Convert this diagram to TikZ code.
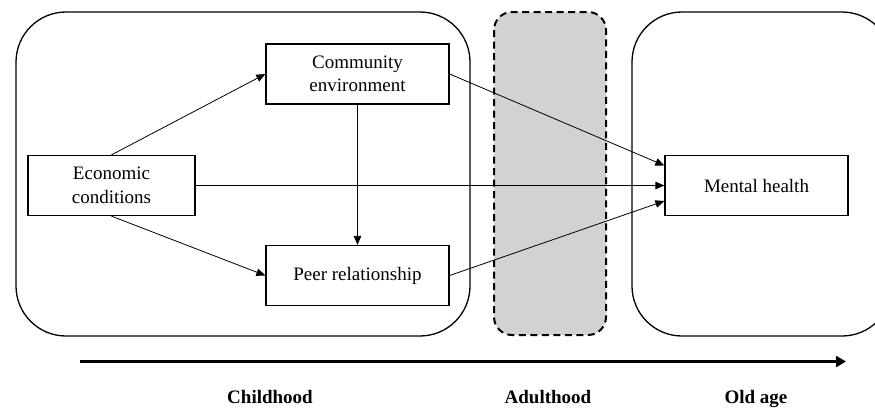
\documentclass[tikz,border=0pt]{standalone}
\usepackage{fontspec}
\setmainfont{Liberation Serif}
\usetikzlibrary{arrows.meta}
\begin{document}
\begin{tikzpicture}[x=1pt,y=-1pt,
  txt/.style={font=\fontsize{19}{23.5}\selectfont, align=center},
  box/.style={txt, draw, line width=1.3pt, minimum width=183pt, minimum height=60pt, inner sep=2pt},
  region/.style={draw, line width=1.3pt, rounded corners=50pt},
  conn/.style={line width=0.8pt, -{Triangle[length=9pt,width=7.5pt]}},
  period/.style={font=\fontsize{19}{23}\selectfont\bfseries, anchor=base, inner sep=0pt}
]
\useasboundingbox (0,0) rectangle (875,410);
\clip (0,0) rectangle (875,410);
% regions
\draw[region] (16,12) rectangle (470,336);
\draw[line width=2pt, dash pattern=on 7pt off 4.5pt, fill=gray!35, rounded corners=18pt] (494,12) rectangle (606,335);
\draw[region] (632,12) rectangle (892,336);
% nodes
\node[box] (com) at (357.5,74) {Community\\environment};
\node[box, minimum width=167pt] (eco) at (111.5,185.5) {Economic\\conditions};
\node[box] (peer) at (357.5,275.5) {Peer relationship};
\node[box] (mh) at (756.5,185.5) {Mental health};
% connectors
\draw[conn] (eco.north) -- (com.west);
\draw[conn] (eco.south) -- (peer.west);
\draw[conn] (eco.east) -- (mh.west);
\draw[conn] (com.south) -- (peer.north);
\draw[conn] (com.east) -- ([yshift=20pt]mh.west);
\draw[conn] (peer.east) -- ([yshift=-15.5pt]mh.west);
% timeline
\coordinate (t0) at (80,361.5);
\coordinate (t1) at (846,361.5);
\draw[line width=3.2pt, -{Triangle[length=10pt,width=11pt]}] (t0) -- (t1);
\node[period] (ch) at (270,403) {Childhood};
\node[period] (ad) at (548,403) {Adulthood};
\node[period] (old) at (756,403) {Old age};
\end{tikzpicture}
\end{document}
